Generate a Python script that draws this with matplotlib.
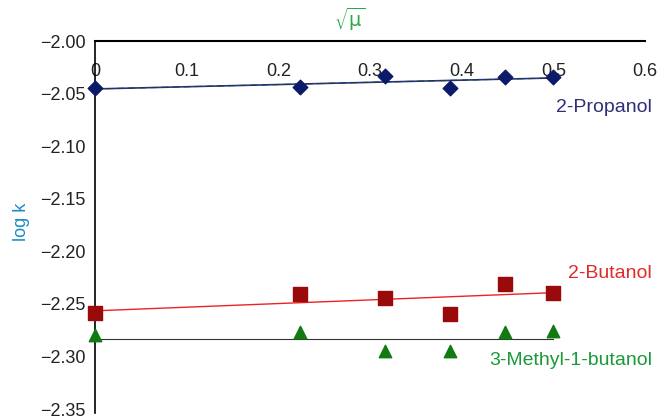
import matplotlib.pyplot as plt
import numpy as np

plt.rcParams['font.family'] = ['Liberation Sans', 'DejaVu Sans']

# square root of ionic strength
sqrt_mu = [0.0, 0.2236, 0.3162, 0.3873, 0.4472, 0.5]

propanol = [-2.0448, -2.0438, -2.0330, -2.0448, -2.0340, -2.0340]
butanol = [-2.2590, -2.2405, -2.2445, -2.2600, -2.2310, -2.2400]
methylbutanol = [-2.2800, -2.2770, -2.2950, -2.2950, -2.2770, -2.2760]

series_names = ["2-Propanol", "2-Butanol", "3-Methyl-1-butanol"]

yticks = [-2.00, -2.05, -2.10, -2.15, -2.20, -2.25, -2.30, -2.35]
xticks = [0, 0.1, 0.2, 0.3, 0.4, 0.5, 0.6]

fig = plt.figure(figsize=(6.57, 4.19), dpi=100)
ax = fig.add_axes([95/657, 1-409/419, (645-95)/657, (409-41)/419])

x = np.array(sqrt_mu)
# trend lines (least squares)
p1 = np.polyfit(x, propanol, 1)
p2 = np.polyfit(x, butanol, 1)
xx = np.array([0, 0.5])
ax.plot(xx, np.polyval(p1, xx), color='#1a3a8a', lw=1.2, zorder=2)
ax.plot(xx, np.polyval(p1, xx), color='#333333', lw=0.8, dashes=(6, 4), zorder=2)
ax.plot(xx, np.polyval(p2, xx), color='#ee2222', lw=1.0, zorder=2)
ax.plot(xx, [np.mean(methylbutanol)]*2, color='#333333', lw=0.8, zorder=2)

ax.scatter(x, propanol, marker='D', s=55, color='#0c1a6a', zorder=3, clip_on=False)
ax.scatter(x, butanol, marker='s', s=110, color='#9b0a0a', zorder=3, clip_on=False)
ax.scatter(x, methylbutanol, marker='^', s=80, color='#117a11', zorder=3, clip_on=False)

ax.set_xlim(0, 0.6)
ax.set_ylim(-2.35, -2.00)

for s in ['right', 'bottom']:
    ax.spines[s].set_visible(False)
ax.spines['top'].set_linewidth(1.5)
ax.spines['left'].set_linewidth(1.2)
ax.spines['left'].set_bounds(-2.354, -2.00)

ax.xaxis.tick_top()
ax.set_xticks(xticks)
ax.set_xticklabels(['0', '0.1', '0.2', '0.3', '0.4', '0.5', '0.6'])
ax.tick_params(axis='x', length=0, pad=-28, labelsize=13, colors='#222222')
ax.set_yticks(yticks)
ax.set_yticklabels([f'\u2212{abs(v):.2f}' for v in yticks])
ax.tick_params(axis='y', length=0, pad=7, labelsize=13, colors='#222222')

ax.text(0.6075, -2.063, series_names[0], ha='right', va='center',
        fontsize=14, color='#2e2e7a', clip_on=False)
ax.text(0.6075, -2.221, series_names[1], ha='right', va='center',
        fontsize=14, color='#e02a2a', clip_on=False)
ax.text(0.6075, -2.304, series_names[2], ha='right', va='center',
        fontsize=14, color='#1a9a3a', clip_on=False)

fig.text(350/657, 1-19/419, r'$\sqrt{\mathrm{\mu}}$', ha='center', va='center',
         fontsize=14, color='#2aa84a')
fig.text(22/657, 1-222/419, 'log k', rotation=90, ha='center', va='center',
         fontsize=13, color='#1a8cc8')

fig.savefig('out.png', dpi=100)
